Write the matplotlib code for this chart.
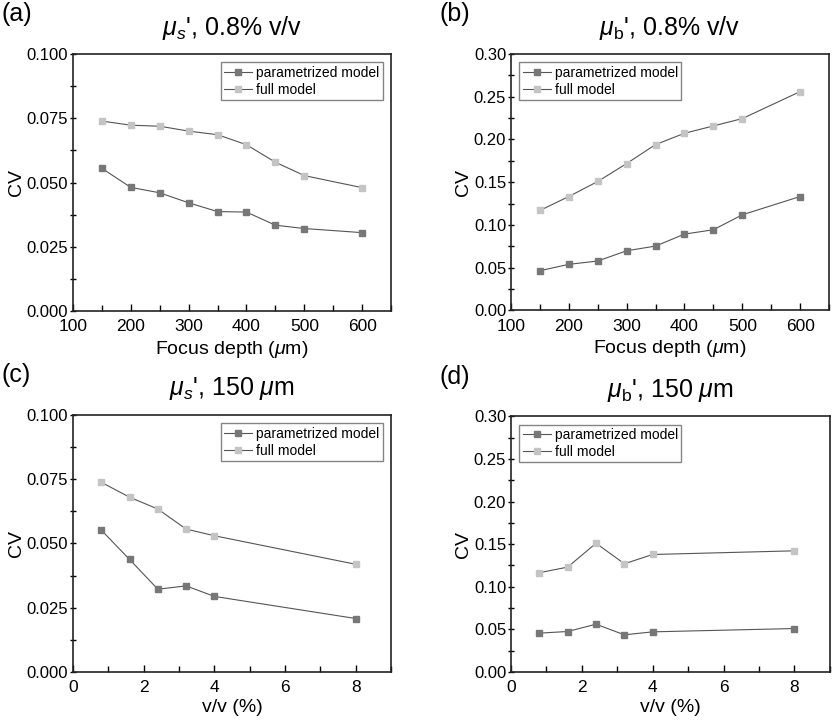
import numpy as np
import matplotlib.pyplot as plt
from matplotlib.ticker import MultipleLocator

plt.rcParams['font.family'] = ['Liberation Sans', 'DejaVu Sans']
plt.rcParams['mathtext.fontset'] = 'custom'
plt.rcParams['mathtext.rm'] = 'Liberation Sans'
plt.rcParams['mathtext.it'] = 'Liberation Sans:italic'

depth = [150, 200, 250, 300, 350, 400, 450, 500, 600]
conc = [0.8, 1.6, 2.4, 3.2, 4.0, 8.0]

# (a) mu_s', 0.8% v/v
a_param = [0.0555, 0.0481, 0.0460, 0.0421, 0.0387, 0.0385, 0.0334, 0.0321, 0.0305]
a_full = [0.0739, 0.0723, 0.0719, 0.0700, 0.0686, 0.0647, 0.0579, 0.0527, 0.0480]
# (b) mu_b', 0.8% v/v
b_param = [0.0464, 0.0538, 0.0577, 0.0697, 0.0752, 0.0892, 0.0943, 0.1118, 0.1332]
b_full = [0.1169, 0.1332, 0.1508, 0.1718, 0.1940, 0.2072, 0.2158, 0.2244, 0.2560]
# (c) mu_s', 150 um
c_param = [0.0552, 0.0438, 0.0322, 0.0335, 0.0294, 0.0208]
c_full = [0.0738, 0.0680, 0.0634, 0.0556, 0.0530, 0.0419]
# (d) mu_b', 150 um
d_param = [0.0456, 0.0475, 0.0561, 0.0436, 0.0471, 0.0510]
d_full = [0.1165, 0.1231, 0.1511, 0.1270, 0.1379, 0.1422]

param_c = '#777777'
full_c = '#c4c4c4'
line_c = '#555555'

fig = plt.figure(figsize=(8.37, 7.2), dpi=100)

panels = [
    ('(a)', r"$\mu_{s}$', 0.8% v/v", depth, a_param, a_full, [0.0872, 0.568, 0.380, 0.357],
     (100, 650), 100, 50, (0, 0.1), 0.025, '%.3f', r'Focus depth ($\mu$m)', 'upper right'),
    ('(b)', r"$\mu_{\mathrm{b}}$', 0.8% v/v", depth, b_param, b_full, [0.6105, 0.569, 0.380, 0.356],
     (100, 650), 100, 50, (0, 0.3), 0.05, '%.2f', r'Focus depth ($\mu$m)', 'upper left'),
    ('(c)', r"$\mu_{s}$', 150 $\mu$m", conc, c_param, c_full, [0.0872, 0.0667, 0.380, 0.357],
     (0, 9), 2, 1, (0, 0.1), 0.025, '%.3f', 'v/v (%)', 'upper right'),
    ('(d)', r"$\mu_{\mathrm{b}}$', 150 $\mu$m", conc, d_param, d_full, [0.6105, 0.0667, 0.381, 0.355],
     (0, 9), 2, 1, (0, 0.3), 0.05, '%.2f', 'v/v (%)', 'upper left'),
]

for lab, title, x, yp, yf, rect, xlim, xmaj, xmin, ylim, ymaj, fmt, xlabel, loc in panels:
    ax = fig.add_axes(rect)
    ax.plot(x, yp, '-', color=line_c, lw=0.8, marker='s', ms=5,
            mfc=param_c, mec=param_c, label='parametrized model')
    ax.plot(x, yf, '-', color=line_c, lw=0.8, marker='s', ms=5,
            mfc=full_c, mec=full_c, label='full model')
    ax.set_xlim(*xlim)
    ax.set_ylim(*ylim)
    ax.xaxis.set_major_locator(MultipleLocator(xmaj))
    ax.xaxis.set_minor_locator(MultipleLocator(xmin))
    ax.yaxis.set_major_locator(MultipleLocator(ymaj))
    ax.yaxis.set_minor_locator(MultipleLocator(ymaj / 2))
    ax.yaxis.set_major_formatter(plt.FormatStrFormatter(fmt))
    ax.tick_params(axis='x', which='both', direction='in', labelsize=12.5, pad=6)
    ax.tick_params(axis='y', which='both', direction='inout', labelsize=12, pad=1)
    ax.tick_params(which='major', length=5, width=1)
    ax.tick_params(which='minor', length=4, width=1)
    for s in ax.spines.values():
        s.set_linewidth(1.2)
        s.set_color('#222222')
    ax.set_xlabel(xlabel, fontsize=14, labelpad=3)
    ax.set_ylabel('CV', fontsize=14, labelpad=1)
    ax.set_title(title, fontsize=18, pad=14)
    leg = ax.legend(loc=loc, fontsize=10, handlelength=2.0, handletextpad=0.3,
                    borderpad=0.25, labelspacing=0.2, fancybox=False,
                    borderaxespad=0.6)
    leg.get_frame().set_edgecolor('#666666')
    leg.get_frame().set_linewidth(1.0)
    fig.text(rect[0] - 0.085, rect[1] + rect[3] + 0.055, lab, fontsize=18,
             ha='left', va='center')

fig.savefig('out.png', dpi=100)
